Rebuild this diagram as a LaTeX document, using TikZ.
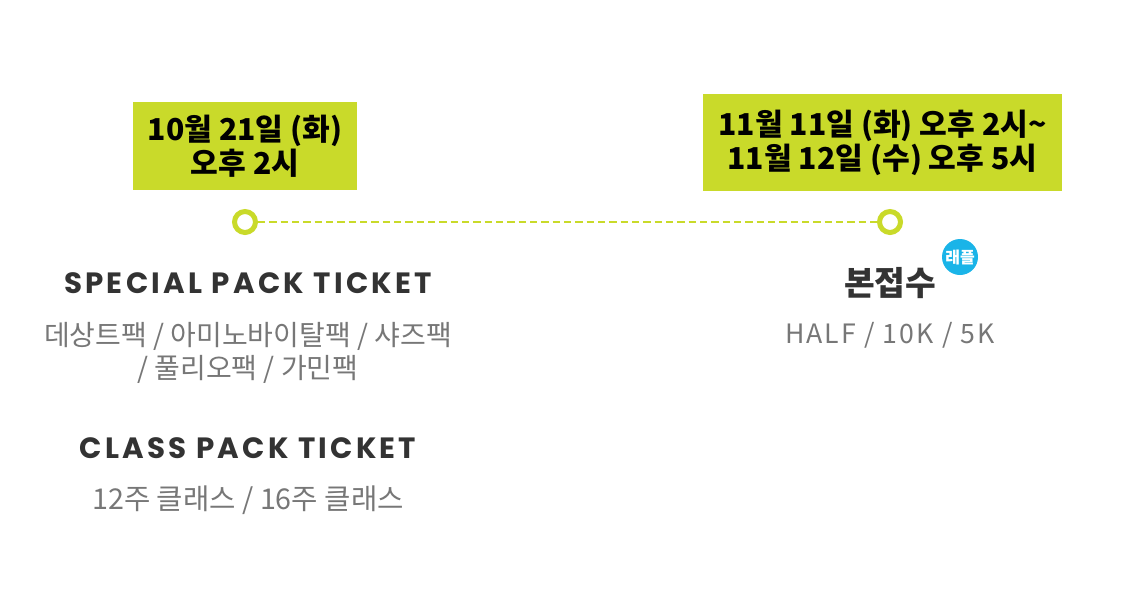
\documentclass[tikz,border=0pt]{standalone}
\usepackage{fontspec}
\setmainfont{Noto Sans CJK KR}
\newfontfamily\headfont{Poppins}[LetterSpace=11]
\newfontfamily\spacedfont{Noto Sans CJK KR}[LetterSpace=8]
\usetikzlibrary{positioning}
\definecolor{lime}{RGB}{201,218,42}
\definecolor{darktext}{RGB}{51,51,51}
\definecolor{greytext}{RGB}{119,119,119}
\definecolor{raffle}{RGB}{26,180,232}

\begin{document}
\begin{tikzpicture}[x=0.75pt,y=-0.75pt,
  datebox/.style={rectangle,fill=lime,text=black,align=center,inner sep=0pt,
    font=\bfseries\fontsize{22.6}{25.5}\selectfont},
  ring/.style={circle,draw=lime,fill=white,line width=3.75pt,minimum size=15.75pt,inner sep=0pt},
  trackline/.style={draw=lime,line width=2.2pt,dash pattern=on 5.5pt off 3pt},
  headline/.style={text=darktext,font=\headfont\bfseries\fontsize{22}{24}\selectfont},
  itemlist/.style={text=greytext,align=center,font=\fontsize{21}{24.5}\selectfont},
  badge/.style={circle,fill=raffle,text=white,inner sep=0pt,minimum size=27pt,
    font=\bfseries\fontsize{12}{14}\selectfont}]
\useasboundingbox (0,0) rectangle (1125,611);

\coordinate (A) at (245,146);
\coordinate (B) at (882.5,142.5);
\coordinate (C) at (245,222);
\coordinate (D) at (890,222);
\coordinate (E) at (248,283);
\coordinate (F) at (248,353);
\coordinate (G) at (248,448);
\coordinate (H) at (248,500);
\coordinate (I) at (890,283);
\coordinate (J) at (960,257);
\coordinate (K) at (890,335);

% dates
\node[datebox,minimum width=168pt,minimum height=66pt] (A1) at (A) {10월 21일 (화)\\오후 2시};
\node[datebox,minimum width=269pt,minimum height=73pt] (B1) at (B) {11월 11일 (화) 오후 2시\textasciitilde\\11월 12일 (수) 오후 5시};

% timeline
\node[ring] (C1) at (C) {};
\node[ring] (D1) at (D) {};
\draw[trackline] (C1) -- (D1);

% left column
\node[headline] (E1) at (E) {SPECIAL PACK TICKET};
\node[itemlist] (F1) at (F) {데상트팩 / 아미노바이탈팩 / 샤즈팩\\/ 풀리오팩 / 가민팩};
\node[headline] (G1) at (G) {CLASS PACK TICKET};
\node[itemlist,font=\fontsize{21.5}{24.5}\selectfont] (H1) at (H) {12주 클래스 / 16주 클래스};

% right column
\node[text=darktext,font=\bfseries\fontsize{25}{28}\selectfont] (I1) at (I) {본접수};
\node[badge] (J1) at (J) {래플};
\node[itemlist,font=\spacedfont\fontsize{20}{22}\selectfont] (K1) at (K) {HALF / 10K / 5K};

\end{tikzpicture}
\end{document}
